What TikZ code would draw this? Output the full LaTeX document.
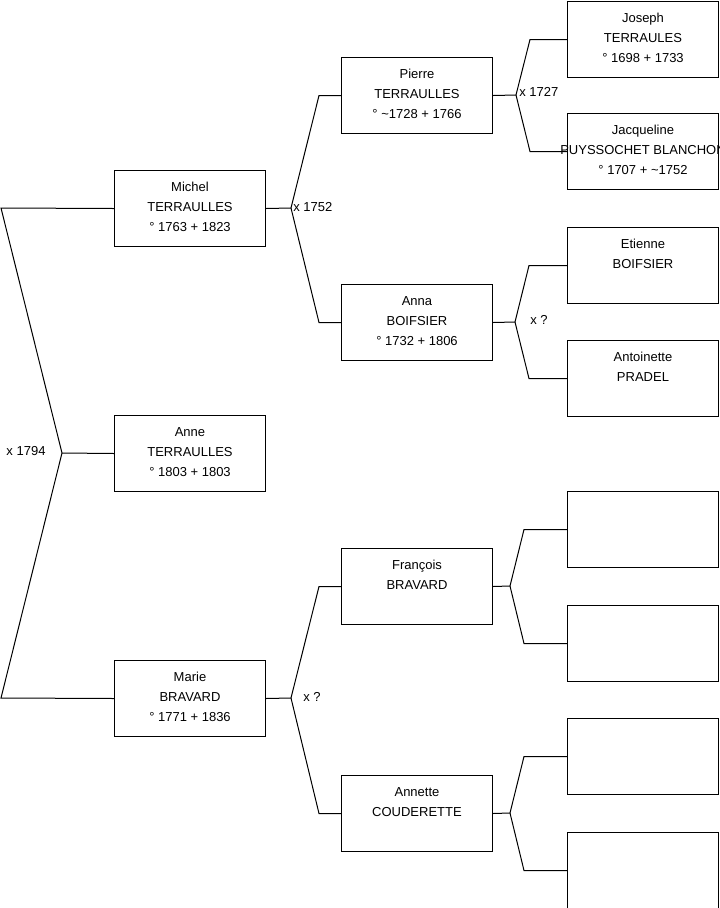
\documentclass[tikz,border=0pt]{standalone}
\usepackage{fontspec}
\setmainfont{Liberation Sans}
\usetikzlibrary{calc}
\newcommand{\pbody}[1]{\parbox[t][57pt][t]{113.25pt}{\centering\rule{0pt}{16pt}#1}}
\begin{document}
\begin{tikzpicture}[x=0.75pt,y=-0.75pt,
  every node/.style={font=\fontsize{9.75}{15}\selectfont},
  person/.style={draw, line width=0.75pt, inner sep=0pt, anchor=north west,
    minimum width=113.25pt, minimum height=57pt},
  link/.style={line width=0.75pt, line join=miter},
  marr/.style={inner sep=0pt}]
\useasboundingbox (0,0) rectangle (719,908);
% generation 1
\node[person] (michel) at (114,170) {\pbody{Michel\\TERRAULLES\\° 1763 + 1823}};
\node[person] (anne) at (114,415) {\pbody{Anne\\TERRAULLES\\° 1803 + 1803}};
\node[person] (marie) at (114,660) {\pbody{Marie\\BRAVARD\\° 1771 + 1836}};
% generation 2
\node[person] (pierre) at (341,57) {\pbody{Pierre\\TERRAULLES\\° \textasciitilde1728 + 1766}};
\node[person] (anna) at (341,284) {\pbody{Anna\\BOIFSIER\\° 1732 + 1806}};
\node[person] (francois) at (341,548) {\pbody{François\\BRAVARD}};
\node[person] (annette) at (341,775) {\pbody{Annette\\COUDERETTE}};
% generation 3
\node[person] (joseph) at (567,1) {\pbody{Joseph\\TERRAULES\\° 1698 + 1733}};
\node[person] (jacqueline) at (567,113) {\pbody{Jacqueline\\\makebox[113.25pt][c]{PUYSSOCHET BLANCHON}\\° 1707 + \textasciitilde1752}};
\node[person] (etienne) at (567,227) {\pbody{Etienne\\BOIFSIER}};
\node[person] (antoinette) at (567,340) {\pbody{Antoinette\\PRADEL}};
\node[person] (e1) at (567,491) {};
\node[person] (e2) at (567,605) {};
\node[person] (e3) at (567,718) {};
\node[person] (e4) at (567,832) {};
% root bracket
\coordinate (r1) at (1,208);
\coordinate (r0) at (62,453);
\coordinate (r2) at (1,698);
\draw[link] (michel.west) -- (r1) -- (r0) -- (r2) -- (marie.west);
\draw[link] (r0) -- (anne.west);
\node[marr] (m0) at (26,451) {x 1794};
% Michel parents
\coordinate (j1) at (291,208);
\draw[link] (michel.east) -- (j1) -- ($(pierre.west)+(-22,0)$) -- (pierre.west);
\draw[link] (j1) -- ($(anna.west)+(-22,0)$) -- (anna.west);
\node[marr,anchor=west] (m1) at (293,207) {x 1752};
% Marie parents
\coordinate (j2) at (291,698);
\draw[link] (marie.east) -- (j2) -- ($(francois.west)+(-22,0)$) -- (francois.west);
\draw[link] (j2) -- ($(annette.west)+(-22,0)$) -- (annette.west);
\node[marr] (m2) at (312,697) {x ?};
% Pierre parents
\coordinate (j3) at (516,95);
\draw[link] (pierre.east) -- (j3) -- ($(joseph.west)+(-37,0)$) -- (joseph.west);
\draw[link] (j3) -- ($(jacqueline.west)+(-37,0)$) -- (jacqueline.west);
\node[marr,anchor=west] (m3) at (519,92) {x 1727};
% Anna parents
\coordinate (j4) at (515,322);
\draw[link] (anna.east) -- (j4) -- ($(etienne.west)+(-38,0)$) -- (etienne.west);
\draw[link] (j4) -- ($(antoinette.west)+(-38,0)$) -- (antoinette.west);
\node[marr] (m4) at (539,320) {x ?};
% Francois parents
\coordinate (j5) at (510,586);
\draw[link] (francois.east) -- (j5) -- ($(e1.west)+(-43,0)$) -- (e1.west);
\draw[link] (j5) -- ($(e2.west)+(-43,0)$) -- (e2.west);
% Annette parents
\coordinate (j6) at (510,813);
\draw[link] (annette.east) -- (j6) -- ($(e3.west)+(-43,0)$) -- (e3.west);
\draw[link] (j6) -- ($(e4.west)+(-43,0)$) -- (e4.west);
\end{tikzpicture}
\end{document}
